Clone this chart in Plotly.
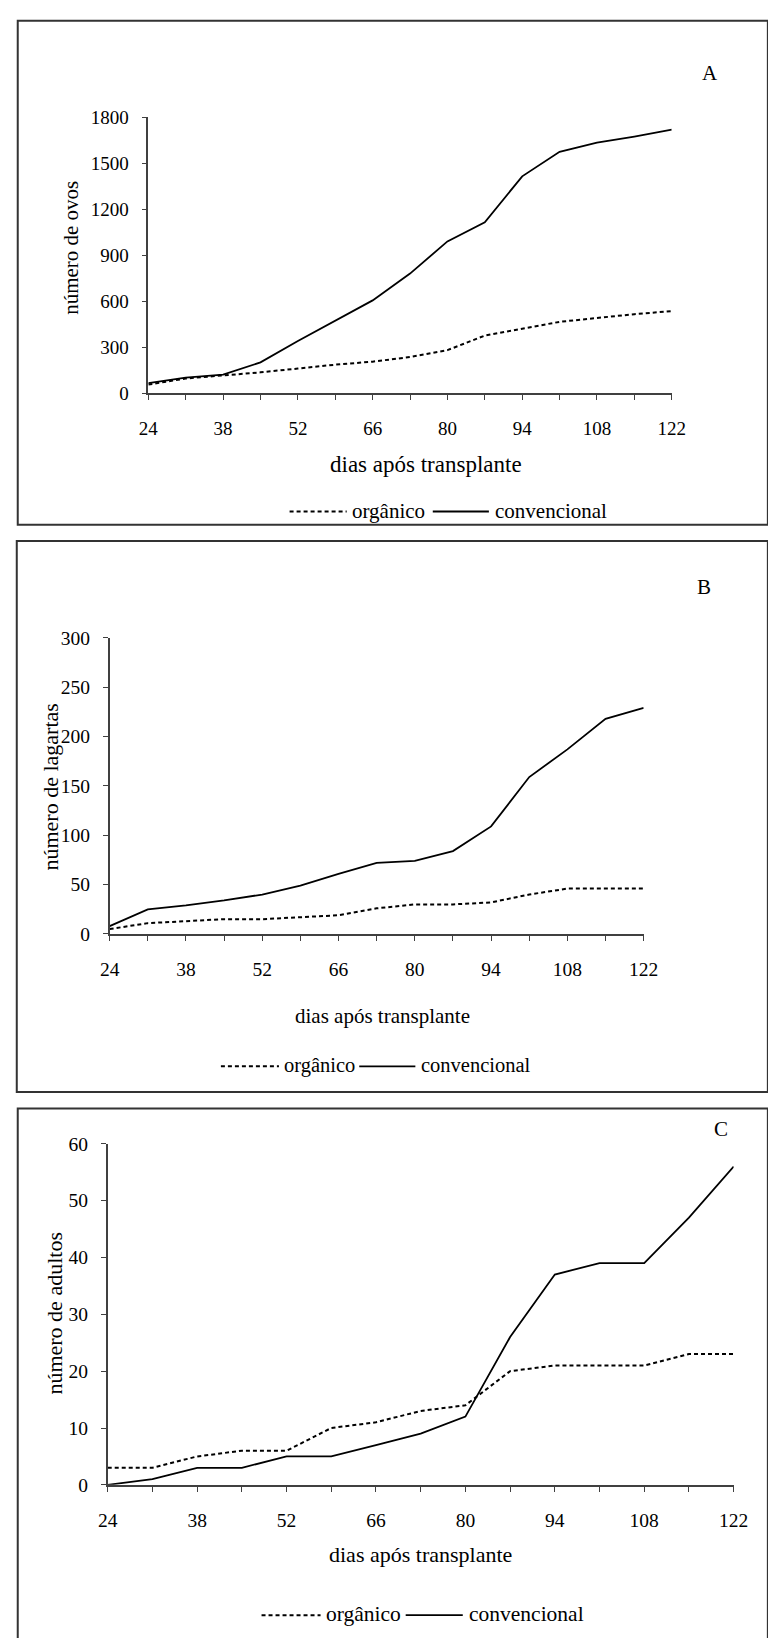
import plotly.graph_objects as go

# Dias após o transplante (um ponto a cada 7 dias)
dias = [24, 31, 38, 45, 52, 59, 66, 73, 80, 87, 94, 101, 108, 115, 122]
rotulos_dias = ["24", "", "38", "", "52", "", "66", "", "80", "", "94", "", "108", "", "122"]

# A - número acumulado de ovos
ovos_organico = [55, 95, 115, 135, 160, 185, 205, 235, 280, 375, 420, 465, 490, 515, 535]
ovos_convencional = [65, 100, 120, 200, 340, 475, 605, 780, 990, 1115, 1415, 1575, 1635, 1675, 1720]
ticks_ovos = [0, 300, 600, 900, 1200, 1500, 1800]

# B - número acumulado de lagartas
lagartas_organico = [5, 11, 13, 15, 15, 17, 19, 26, 30, 30, 32, 40, 46, 46, 46]
lagartas_convencional = [8, 25, 29, 34, 40, 49, 61, 72, 74, 84, 109, 159, 187, 218, 229]
ticks_lagartas = [0, 50, 100, 150, 200, 250, 300]

# C - número acumulado de adultos
adultos_organico = [3, 3, 5, 6, 6, 10, 11, 13, 14, 20, 21, 21, 21, 23, 23]
adultos_convencional = [0, 1, 3, 3, 5, 5, 7, 9, 12, 26, 37, 39, 39, 47, 56]
ticks_adultos = [0, 10, 20, 30, 40, 50, 60]

serie_nomes = ["orgânico", "convencional"]
painel_letras = ["A", "B", "C"]
eixo_y_titulos = ["número de ovos", "número de lagartas", "número de adultos"]
eixo_x_titulo = "dias após transplante"

W, H = 768, 1638
FONTE = "Liberation Serif, Times New Roman, serif"
COR_EIXO = "#404040"
COR_BORDA = "#333333"
TRACO = "4px,3px"


def px_x(x):
    return x / W


def px_y(y):
    return 1 - y / H


# Geometria de cada painel, em pixels da página
paineis = [
    dict(dados=(ovos_organico, ovos_convencional), ticks=ticks_ovos,
         plot=(143, 684, 108.8, 388), borda=(8, 11, 521.5),
         letra=(724, 64), xtit=(430, 460, 23), ytit=(63, 241, 21),
         leg=(289, 507, [(289, 348), (352,), (437, 495), (500,)], 21),
         fonte_tick=19),
    dict(dados=(lagartas_organico, lagartas_convencional), ticks=ticks_lagartas,
         plot=(103, 655, 636, 936), borda=(7, 538, 1096),
         letra=(717, 584), xtit=(385, 1019, 21), ytit=(42, 787, 22),
         leg=(218, 1069, [(218, 278), (282,), (361, 419), (424,)], 20.5),
         fonte_tick=19.5),
    dict(dados=(adultos_organico, adultos_convencional), ticks=ticks_adultos,
         plot=(101, 748, 1148.5, 1494), borda=(8, 1112.7, 1660),
         letra=(735, 1134), xtit=(424, 1565, 22), ytit=(46, 1320, 22),
         leg=(260, 1625, [(260, 321), (326,), (409, 468), (473,)], 21.5),
         fonte_tick=19.5),
]

fig = go.Figure()
layout = dict(
    width=W, height=H, margin=dict(l=0, r=0, t=0, b=0),
    paper_bgcolor="white", plot_bgcolor="white", showlegend=False,
    font=dict(family=FONTE, color="black"),
)
shapes, annotations = [], []

for i, p in enumerate(paineis):
    n = "" if i == 0 else str(i + 1)
    xa, ya = "x" + n, "y" + n
    org, conv = p["dados"]
    x0, x1, y0, y1 = p["plot"]

    fig.add_trace(go.Scatter(x=dias, y=org, mode="lines", name=serie_nomes[0],
                             xaxis=xa, yaxis=ya,
                             line=dict(color="black", width=2, dash=TRACO)))
    fig.add_trace(go.Scatter(x=dias, y=conv, mode="lines", name=serie_nomes[1],
                             xaxis=xa, yaxis=ya,
                             line=dict(color="black", width=1.8)))

    layout["xaxis" + n] = dict(
        domain=[px_x(x0), px_x(x1)], anchor=ya, range=[dias[0], dias[-1]],
        tickmode="array", tickvals=dias, ticktext=rotulos_dias,
        showline=True, linecolor=COR_EIXO, linewidth=1.5,
        ticks="outside", ticklen=5, tickwidth=1.3, tickcolor=COR_EIXO,
        showgrid=False, zeroline=False, ticklabelstandoff=12,
        tickfont=dict(family=FONTE, size=p["fonte_tick"], color="black"),
    )
    layout["yaxis" + n] = dict(
        domain=[px_y(y1), px_y(y0)], anchor=xa,
        range=[p["ticks"][0], p["ticks"][-1]],
        tickmode="array", tickvals=p["ticks"],
        showline=True, linecolor=COR_EIXO, linewidth=1.5,
        ticks="outside", ticklen=5, tickwidth=1.3, tickcolor=COR_EIXO,
        showgrid=False, zeroline=False, ticklabelstandoff=9,
        tickfont=dict(family=FONTE, size=p["fonte_tick"], color="black"),
    )

    # moldura do painel
    bx, bt, bb = p["borda"]
    shapes.append(dict(type="rect", xref="paper", yref="paper",
                       x0=px_x(bx), x1=1.02, y0=px_y(bb), y1=px_y(bt),
                       line=dict(color=COR_BORDA, width=2), fillcolor="rgba(0,0,0,0)"))

    # letra do painel
    lx, ly = p["letra"]
    annotations.append(dict(text=painel_letras[i], x=px_x(lx), y=px_y(ly),
                            xref="paper", yref="paper", showarrow=False,
                            xanchor="center", yanchor="middle",
                            font=dict(family=FONTE, size=21, color="black")))

    # títulos dos eixos
    tx, ty, ts = p["xtit"]
    annotations.append(dict(text=eixo_x_titulo, x=px_x(tx), y=px_y(ty),
                            xref="paper", yref="paper", showarrow=False,
                            xanchor="center", yanchor="middle",
                            font=dict(family=FONTE, size=ts, color="black")))
    vx, vy, vs = p["ytit"]
    annotations.append(dict(text=eixo_y_titulos[i], x=px_x(vx), y=px_y(vy),
                            xref="paper", yref="paper", showarrow=False,
                            textangle=-90, xanchor="center", yanchor="middle",
                            font=dict(family=FONTE, size=vs, color="black")))

    # legenda
    _, ley, partes, lfs = p["leg"]
    (d0, d1), (t0,), (s0, s1), (t1,) = partes
    shapes.append(dict(type="line", xref="paper", yref="paper",
                       x0=px_x(d0), x1=px_x(d1), y0=px_y(ley + 1), y1=px_y(ley + 1),
                       line=dict(color="black", width=2, dash=TRACO)))
    shapes.append(dict(type="line", xref="paper", yref="paper",
                       x0=px_x(s0), x1=px_x(s1), y0=px_y(ley + 1), y1=px_y(ley + 1),
                       line=dict(color="black", width=1.8)))
    for nome, tx0 in zip(serie_nomes, (t0, t1)):
        annotations.append(dict(text=nome, x=px_x(tx0), y=px_y(ley),
                                xref="paper", yref="paper", showarrow=False,
                                xanchor="left", yanchor="middle", borderpad=0,
                                font=dict(family=FONTE, size=lfs, color="black")))

layout["shapes"] = shapes
layout["annotations"] = annotations
fig.update_layout(**layout)
fig.write_html("out.html")
